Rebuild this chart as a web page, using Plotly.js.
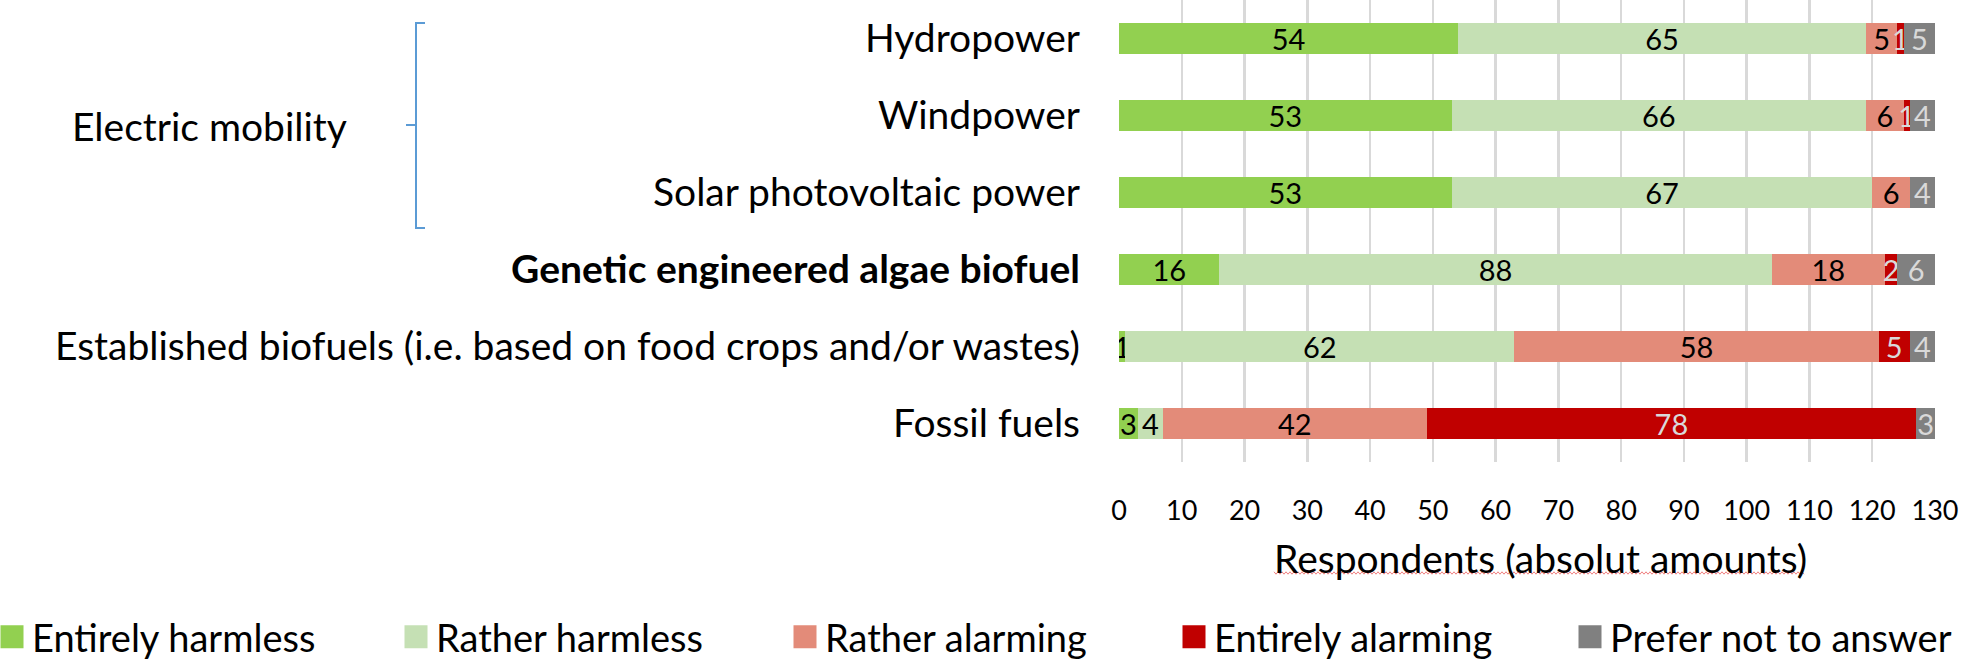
<!DOCTYPE html>
<html><head><meta charset="utf-8">
<script src="https://cdn.plot.ly/plotly-3.0.1.min.js"></script>
<style>html,body{margin:0;padding:0;background:#fff;overflow:hidden;} #chart{width:1961px;height:662px;}</style>
</head><body><div id="chart"></div>
<script>
// ---- data ----
const categories = ['Hydropower','Windpower','Solar photovoltaic power','Genetic engineered algae biofuel','Established biofuels (i.e. based on food crops and/or wastes)','Fossil fuels'];
const tickLabels = ['Hydropower','Windpower','Solar photovoltaic power','<b>Genetic engineered algae biofuel</b>','Established biofuels (i.e. based on food crops and/or wastes)','Fossil fuels'];
const seriesNames = ['Entirely harmless','Rather harmless','Rather alarming','Entirely alarming','Prefer not to answer'];
const entirelyHarmless = [54,53,53,16,1,3];
const ratherHarmless   = [65,66,67,88,62,4];
const ratherAlarming   = [5,6,6,18,58,42];
const entirelyAlarming = [1,1,0,2,5,78];
const preferNot        = [5,4,4,6,4,3];
const xTickValues = [0,10,20,30,40,50,60,70,80,90,100,110,120,130];
const groupLabel = 'Electric mobility';
const axisTitleText = 'Respondents (absolut amounts)';

// ---- styling ----
const colors = ['#92d050','#c5e0b4','#e38b79','#c00000','#808080'];
const labelColors = ['#000000','#000000','#000000','#d9d9d9','#d9d9d9'];
const legendWidths = [359, 344, 344, 350, undefined];
const legendIds = ['legend','legend','legend','legend','legend2'];
const W = 1961, H = 662, ML = 1119, MR = 26, MT = 0, MB = 200;
const PW = W - ML - MR, PH = H - MT - MB;
const px2x = p => (p - ML) / PW;
const px2y = p => 1 - (p - MT) / PH;
const FONT = 'Lato, "Open Sans", sans-serif';
const BIG = 39;

const seriesValues = [entirelyHarmless, ratherHarmless, ratherAlarming, entirelyAlarming, preferNot];
const traces = seriesValues.map((vals, i) => {
  const t = {
    type: 'bar', orientation: 'h', name: seriesNames[i],
    y: categories, x: vals,
    text: vals.map(v => v ? String(v) : ''),
    textposition: 'inside', insidetextanchor: 'middle', textangle: 0,
    constraintext: 'none',
    textfont: {family: FONT, size: 29, color: labelColors[i]},
    marker: {color: colors[i], line: {width: 0}},
    legend: legendIds[i],
    hoverinfo: 'x+name'
  };
  if (legendWidths[i]) t.legendwidth = legendWidths[i];
  return t;
});

// bracket
const bx = px2x(416), bxr = px2x(425), bxl = px2x(406);
const byt = px2y(23), byb = px2y(228), bym = px2y(125);
const bracketPath = `M${bxr},${byt} L${bx},${byt} L${bx},${byb} L${bxr},${byb} M${bxl},${bym} L${bx},${bym}`;

// squiggle under axis title
let sq = '';
const sx0 = 1274, sx1 = 1805, sy = 573;
let k = 0;
for (let p = sx0; p <= sx1; p += 2, k++) {
  const yy = sy + (k % 2 ? 1.2 : -1.2);
  sq += (k === 0 ? 'M' : 'L') + px2x(p) + ',' + px2y(yy) + ' ';
}

const legendCommon = {
  orientation: 'h', xanchor: 'left', y: px2y(637), yanchor: 'middle',
  font: {family: FONT, size: 38, color: '#000000'},
  entrywidthmode: 'pixels',
  bgcolor: 'rgba(0,0,0,0)', borderwidth: 0, traceorder: 'normal'
};

const layout = {
  width: W, height: H,
  margin: {l: ML, r: MR, t: MT, b: MB, pad: 0, autoexpand: false},
  paper_bgcolor: '#ffffff', plot_bgcolor: '#ffffff',
  font: {family: FONT, color: '#000000'},
  barmode: 'stack', bargap: 0.61,
  showlegend: true,
  xaxis: {
    range: [0, 130], tickvals: xTickValues, ticktext: xTickValues.map(String),
    showgrid: true, gridcolor: '#d9d9d9', gridwidth: 2.5,
    zeroline: false, showline: false, ticks: '',
    tickfont: {family: FONT, size: 27, color: '#000000'},
    ticklabelstandoff: 30, fixedrange: true
  },
  yaxis: {
    type: 'category', categoryorder: 'array', categoryarray: categories,
    tickvals: categories, ticktext: tickLabels,
    autorange: 'reversed', showgrid: false, zeroline: false, showline: false, ticks: '',
    tickfont: {family: FONT, size: BIG, color: '#000000'},
    ticklabelstandoff: 38, fixedrange: true
  },
  legend: Object.assign({}, legendCommon, {x: px2x(-8)}),
  legend2: Object.assign({}, legendCommon, {x: px2x(1570)}),
  annotations: [
    {text: groupLabel, xref: 'paper', yref: 'paper', x: px2x(209), y: px2y(126), xanchor: 'center', yanchor: 'middle', showarrow: false, font: {family: FONT, size: BIG, color: '#000000'}},
    {text: axisTitleText, xref: 'paper', yref: 'paper', x: px2x(1540), y: px2y(558), xanchor: 'center', yanchor: 'middle', showarrow: false, font: {family: FONT, size: BIG, color: '#000000'}}
  ],
  shapes: [
    {type: 'path', xref: 'paper', yref: 'paper', path: bracketPath, line: {color: '#5b9bd5', width: 2}},
    {type: 'path', xref: 'paper', yref: 'paper', path: sq, line: {color: '#f08080', width: 1}}
  ]
};

function bigLegendSymbols() {
  document.querySelectorAll('.legendpoints path').forEach(p => {
    p.setAttribute('d', 'M11.5,11.5H-11.5V-11.5H11.5Z');
  });
}
const gd = document.getElementById('chart');
Plotly.newPlot(gd, traces, layout, {displayModeBar: false, staticPlot: true}).then(() => {
  bigLegendSymbols();
  gd.on('plotly_afterplot', bigLegendSymbols);
});
</script>
</body></html>
